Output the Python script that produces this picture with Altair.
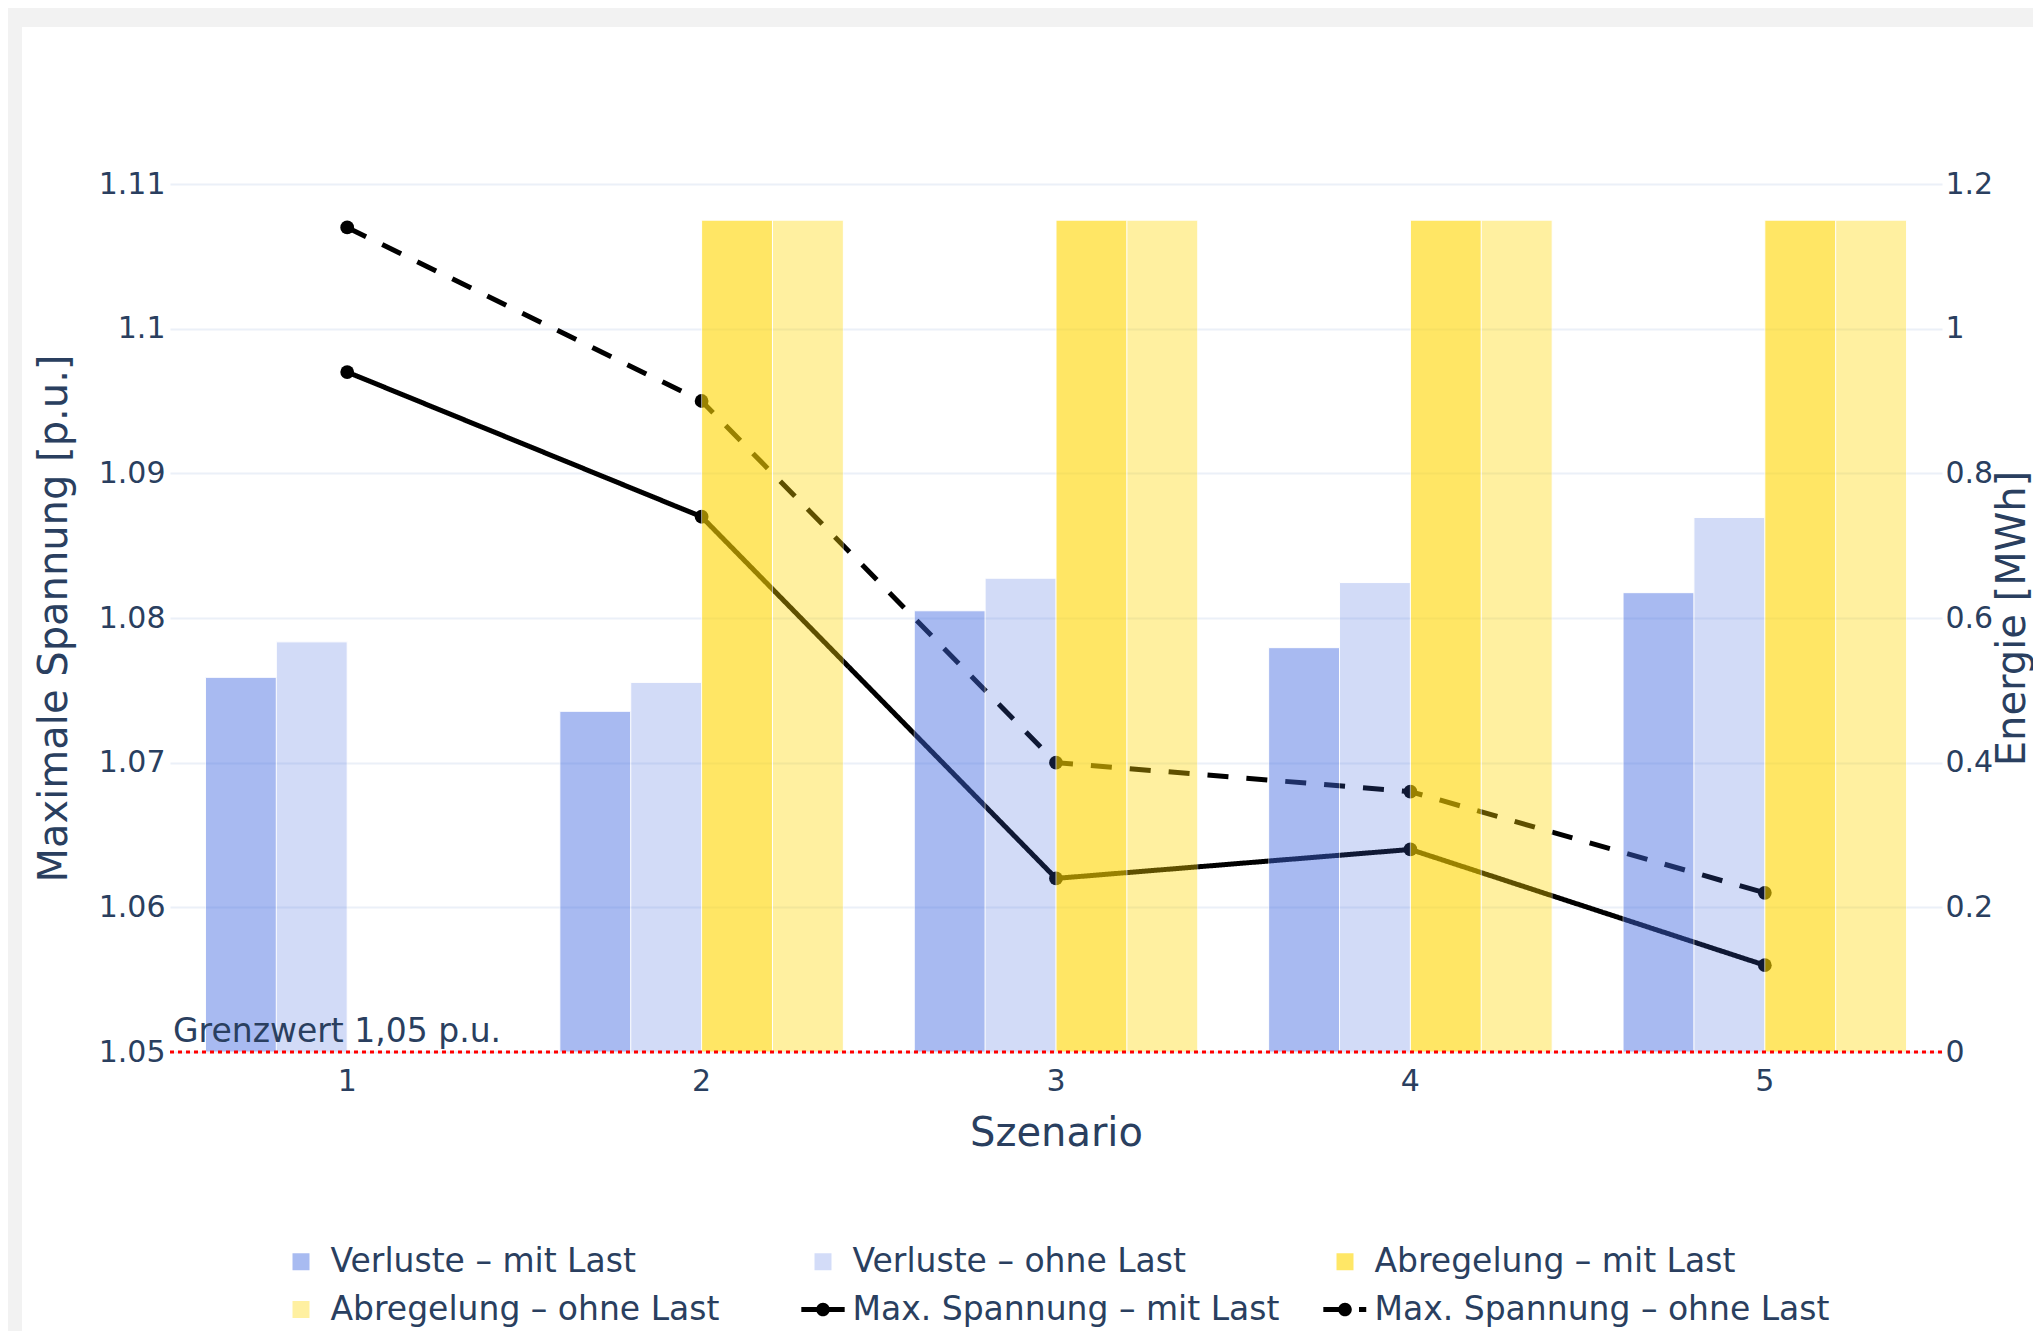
import altair as alt
import pandas as pd

# ---------------- data ----------------
scenarios = [1, 2, 3, 4, 5]
verluste_mit_last = [0.518, 0.471, 0.610, 0.559, 0.635]
verluste_ohne_last = [0.567, 0.511, 0.655, 0.649, 0.739]
abregelung_mit_last = [None, 1.15, 1.15, 1.15, 1.15]
abregelung_ohne_last = [None, 1.15, 1.15, 1.15, 1.15]
spannung_mit_last = [1.097, 1.087, 1.062, 1.064, 1.056]
spannung_ohne_last = [1.107, 1.095, 1.070, 1.068, 1.061]

bar_names = ["Verluste – mit Last", "Verluste – ohne Last",
             "Abregelung – mit Last", "Abregelung – ohne Last"]
line_names = ["Max. Spannung – mit Last", "Max. Spannung – ohne Last"]
left_ticks = [1.05, 1.06, 1.07, 1.08, 1.09, 1.1, 1.11]
right_ticks = [0, 0.2, 0.4, 0.6, 0.8, 1, 1.2]
grenzwert = 1.05
grenzwert_label = "Grenzwert 1,05 p.u."

# ---------------- styling ----------------
FONT = "DejaVu Sans"
TXT = "#2a3f5f"
W, H = 1772, 868
PAD = {"left": 162, "top": 176, "right": 91, "bottom": 279}

bar_values = [verluste_mit_last, verluste_ohne_last, abregelung_mit_last, abregelung_ohne_last]
bar_fill = ["#4169e1", "#4169e1", "#ffd700", "#ffd700"]
bar_alpha = [0.455, 0.23, 0.6, 0.37]
legend_colors = ["#a8bbf1", "#d3dcf8", "#ffe766", "#fff0a1", "#000000", "#000000"]

rows = []
for name, vals, fc, a in zip(bar_names, bar_values, bar_fill, bar_alpha):
    for s, v in zip(scenarios, vals):
        if v is not None:
            rows.append({"Szenario": s, "Reihe": name, "Energie": v, "fill": fc, "alpha": a})
bars_df = pd.DataFrame(rows)

line_rows = []
for name, vals in zip(line_names, [spannung_mit_last, spannung_ohne_last]):
    for s, v in zip(scenarios, vals):
        line_rows.append({"Szenario": s, "Reihe": name, "Spannung": v})
lines_df = pd.DataFrame(line_rows)

# ---------------- scales / axes ----------------
x_scale = alt.Scale(type="band", domain=scenarios, paddingInner=0.2, paddingOuter=0.1)
x_axis = alt.Axis(orient="bottom", labelAngle=0, labelFontSize=30, labelColor=TXT, labelFont=FONT,
                  labelPadding=14, ticks=False, domain=False, grid=False,
                  title="Szenario", titleFontSize=40, titleFont=FONT, titleColor=TXT,
                  titleFontWeight="normal", titleX=W / 2, titleY=93,
                  titleBaseline="alphabetic", titleAlign="center")


def xenc():
    return alt.X("Szenario:O", scale=x_scale, axis=x_axis)


yl_scale = alt.Scale(domain=[1.05, 1.11], nice=False, zero=False)
yl_axis = alt.Axis(orient="left", values=left_ticks, format=".3~f", grid=True, gridColor="#ebf0f8",
                   gridWidth=2, domain=False, ticks=False, labelFontSize=30, labelColor=TXT,
                   labelFont=FONT, labelPadding=5, labelFlush=False,
                   title="Maximale Spannung [p.u.]", titleFontSize=40, titleFont=FONT,
                   titleColor=TXT, titleFontWeight="normal", titleAngle=270,
                   titleBaseline="alphabetic", titleAlign="center", titleX=-104, titleY=H / 2)

yr_scale = alt.Scale(domain=[0, 1.2], nice=False, zero=True)
yr_axis = alt.Axis(orient="right", values=right_ticks, format="~g", grid=False, domain=False,
                   ticks=False, labelFontSize=30, labelColor=TXT, labelFont=FONT, labelPadding=3,
                   labelFlush=False, title="Energie [MWh]", titleFontSize=40, titleFont=FONT,
                   titleColor=TXT, titleFontWeight="normal", titleAngle=270,
                   titleBaseline="alphabetic", titleAlign="center", titleX=82, titleY=H / 2)

# ---------------- layers ----------------
strip_left = alt.Chart(alt.Data(values=[{}])).mark_rect(color="#f2f2f2").encode(
    x=alt.value(-PAD["left"]), x2=alt.value(-148), y=alt.value(-PAD["top"]), y2=alt.value(H + PAD["bottom"]))
strip_top = alt.Chart(alt.Data(values=[{}])).mark_rect(color="#f2f2f2").encode(
    x=alt.value(-PAD["left"]), x2=alt.value(W + PAD["right"]), y=alt.value(-PAD["top"]), y2=alt.value(-157))

line_layer = alt.Chart(lines_df).mark_line(color="black", strokeWidth=5).encode(
    x=xenc(),
    y=alt.Y("Spannung:Q", scale=yl_scale, axis=yl_axis),
    strokeDash=alt.StrokeDash("Reihe:N", scale=alt.Scale(domain=line_names, range=[[1, 0], [21, 18]]),
                              legend=None),
)
point_layer = alt.Chart(lines_df).mark_point(filled=True, color="black", size=190, opacity=1).encode(
    x=xenc(),
    y=alt.Y("Spannung:Q", scale=yl_scale, axis=None),
)
bar_layer = alt.Chart(bars_df).mark_bar(stroke="white", strokeWidth=1).encode(
    x=xenc(),
    xOffset=alt.XOffset("Reihe:N", scale=alt.Scale(domain=bar_names, paddingInner=0, paddingOuter=0)),
    y=alt.Y("Energie:Q", scale=yr_scale, axis=yr_axis),
    fill=alt.Fill("fill:N", scale=None),
    opacity=alt.Opacity("alpha:Q", scale=None),
)
rule_layer = alt.Chart(alt.Data(values=[{"g": grenzwert}])).mark_rule(
    color="red", strokeWidth=3, strokeDash=[4, 4]).encode(
    y=alt.Y("g:Q", scale=yl_scale, axis=None))
text_layer = alt.Chart(alt.Data(values=[{"g": grenzwert, "label": grenzwert_label}])).mark_text(
    align="left", baseline="alphabetic", dx=3, dy=-10, font=FONT, fontSize=33, color=TXT).encode(
    x=alt.value(0),
    y=alt.Y("g:Q", scale=yl_scale, axis=None),
    text="label:N",
)

all_names = bar_names + line_names
sq = "M-1,-1H1V1H-1Z"
dot = "M-0.8,0A0.8,0.8 0 1,1 0.8,0A0.8,0.8 0 1,1 -0.8,0Z"
solid_sym = "M-2.55,-0.3H2.55V0.3H-2.55Z " + dot
dashed_sym = "M-2.55,-0.3H-0.5V0.3H-2.55Z M1.65,-0.3H2.5V0.3H1.65Z " + dot
legend_shapes = [sq, sq, sq, sq, solid_sym, dashed_sym]

leg = alt.Legend(title=None, orient="none", legendX=114.5, legendY=1061, columns=3,
                 direction="horizontal", gridAlign="all", columnPadding=15, rowPadding=14,
                 symbolSize=289, symbolStrokeWidth=0, labelFontSize=33, labelFont=FONT,
                 labelColor=TXT, labelOffset=13, labelLimit=1000, padding=0)
legend_layer = alt.Chart(pd.DataFrame({"Reihe": all_names})).mark_point(
    filled=True, size=289, opacity=1).encode(
    color=alt.Color("Reihe:N", scale=alt.Scale(domain=all_names, range=legend_colors), legend=leg),
    shape=alt.Shape("Reihe:N", scale=alt.Scale(domain=all_names, range=legend_shapes), legend=leg),
).transform_filter("false")

chart = alt.layer(
    strip_left, strip_top, line_layer, point_layer, bar_layer, rule_layer, text_layer, legend_layer
).resolve_scale(y="independent").properties(
    width=W, height=H,
    autosize=alt.AutoSizeParams(type="none"),
    padding=PAD,
    background="white",
).configure_view(stroke=None)

chart.save("out.html", embed_options={"renderer": "svg", "actions": False})
